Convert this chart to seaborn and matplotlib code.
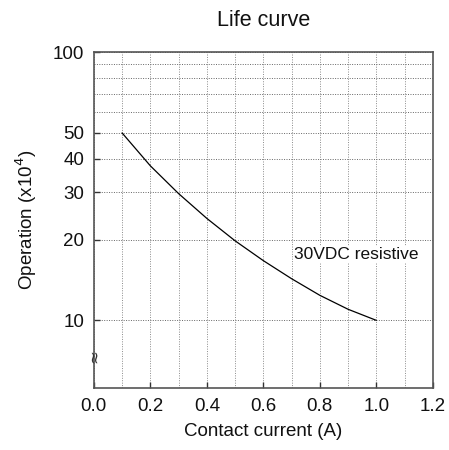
import numpy as np
import pandas as pd
import matplotlib
matplotlib.use("Agg")
import matplotlib.pyplot as plt
from matplotlib.ticker import FixedLocator, NullFormatter, FixedFormatter
import seaborn as sns

# values
current = [0.1, 0.2, 0.3, 0.4, 0.5, 0.6, 0.7, 0.8, 0.9, 1.0]
operations = [50, 37.7, 29.7, 24.0, 19.8, 16.7, 14.3, 12.4, 11.0, 10]

x_ticks = [0.0, 0.2, 0.4, 0.6, 0.8, 1.0, 1.2]
x_labels = ["0.0", "0.2", "0.4", "0.6", "0.8", "1.0", "1.2"]
y_ticks = [10, 20, 30, 40, 50, 100]
y_minor = [60, 70, 80, 90]
x_minor = [0.1, 0.3, 0.5, 0.7, 0.9, 1.1]

df = pd.DataFrame({"Current": current, "Operation": operations})

sns.set_style("ticks")
plt.rcParams["font.family"] = ["Liberation Sans", "DejaVu Sans"]
fs = 13.5

fig = plt.figure(figsize=(4.49, 4.5), dpi=100)
ax = fig.add_axes([0.209, 0.138, 0.755, 0.746])

sns.lineplot(data=df, x="Current", y="Operation", color="black", linewidth=0.9, ax=ax)

ax.set_yscale("log")
ax.set_xlim(0, 1.2)
ax.set_ylim(5.6, 100)

ax.xaxis.set_major_locator(FixedLocator(x_ticks))
ax.xaxis.set_major_formatter(FixedFormatter(x_labels))
ax.xaxis.set_minor_locator(FixedLocator(x_minor))
ax.yaxis.set_major_locator(FixedLocator(y_ticks))
ax.yaxis.set_major_formatter(FixedFormatter([str(v) for v in y_ticks]))
ax.yaxis.set_minor_locator(FixedLocator(y_minor))
ax.yaxis.set_minor_formatter(NullFormatter())

ax.tick_params(which="major", direction="in", length=4, width=1, color="#333333",
               labelsize=fs, pad=7, labelcolor="#111111")
ax.tick_params(which="minor", length=0)

ax.grid(which="both", axis="y", linestyle=(0, (1, 1.5)), color="#666666", linewidth=0.7)
ax.grid(which="both", axis="x", linestyle=(0, (1, 1.5)), color="#8a8a8a", linewidth=0.7)
ax.set_axisbelow(True)

for s in ax.spines.values():
    s.set_color("#555555")
    s.set_linewidth(1.2)

ax.text(0.71, 17.6, "30VDC resistive", fontsize=12.5, va="center", ha="left",
        color="#111111", bbox=dict(facecolor="white", edgecolor="none", pad=1))
ax.text(0.0, 7.36, "≈", rotation=90, fontsize=12, ha="center", va="center",
        color="#333333", family="DejaVu Sans", transform=ax.get_yaxis_transform())

ax.set_title("Life curve", fontsize=15.5, pad=19, color="#111111")
ax.set_xlabel("Contact current (A)", fontsize=fs, labelpad=6, color="#111111")
ax.set_ylabel("Operation (x10$^4$)", fontsize=fs, labelpad=10, color="#111111")

fig.savefig("out.png", dpi=100)
